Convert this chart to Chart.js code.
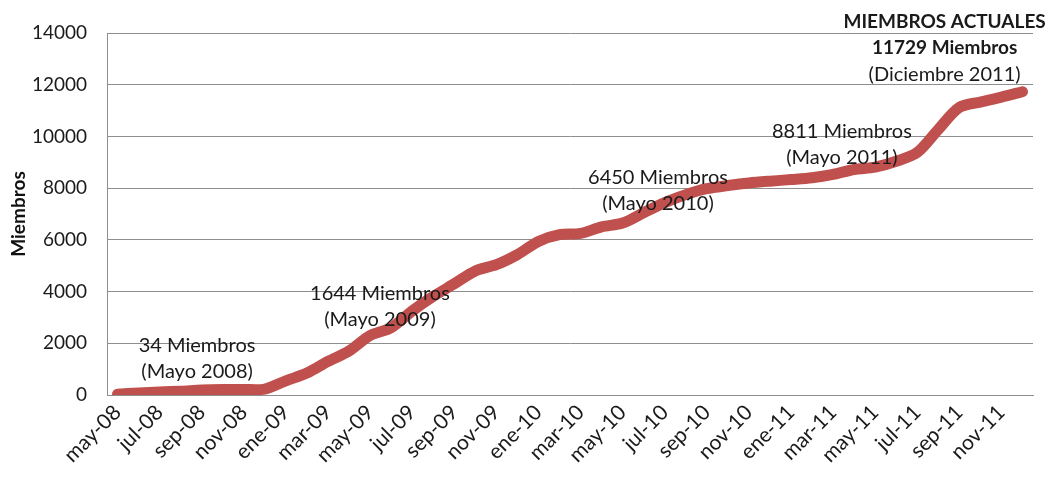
<!DOCTYPE html>
<html>
<head>
<meta charset="utf-8">
<script src="https://cdn.jsdelivr.net/npm/chart.js@4/dist/chart.umd.min.js"></script>
<style>
  html, body { margin: 0; padding: 0; background: #fff; }
  #wrap { width: 1046px; height: 478px; position: relative; }
</style>
</head>
<body>
<div id="wrap"><canvas id="c" width="1046" height="478"></canvas></div>
<script>
const months = ['may-08','jun-08','jul-08','ago-08','sep-08','oct-08','nov-08','dic-08',
  'ene-09','feb-09','mar-09','abr-09','may-09','jun-09','jul-09','ago-09','sep-09','oct-09','nov-09','dic-09',
  'ene-10','feb-10','mar-10','abr-10','may-10','jun-10','jul-10','ago-10','sep-10','oct-10','nov-10','dic-10',
  'ene-11','feb-11','mar-11','abr-11','may-11','jun-11','jul-11','ago-11','sep-11','oct-11','nov-11','dic-11'];
const miembros = [34,80,120,150,190,210,215,230,
  550,850,1300,1700,2300,2600,3250,3810,4300,4800,5040,5430,
  5940,6200,6250,6500,6650,7050,7440,7750,7980,8100,8200,8270,
  8330,8400,8530,8720,8811,9040,9380,10270,11120,11330,11520,11729];
const yTicks = [0,2000,4000,6000,8000,10000,12000,14000];
const annotationTexts = [
  ['34 Miembros','(Mayo 2008)'],
  ['1644 Miembros','(Mayo 2009)'],
  ['6450 Miembros','(Mayo 2010)'],
  ['8811 Miembros','(Mayo 2011)'],
  ['MIEMBROS ACTUALES','11729 Miembros','(Diciembre 2011)']
];

const FONT = 'Lato, "Liberation Sans", Arial, sans-serif';
// anchor (category index, value) and per-line bold flags
const annotationLayout = [
  {ix: 3.78, v: 1900, bold: [false,false]},
  {ix: 12.47, v: 3915, bold: [false,false]},
  {ix: 25.68, v: 8410, bold: [false,false]},
  {ix: 34.42, v: 10190, bold: [false,false]},
  {ix: 39.3, v: 14420, bold: [true,true,false]}
];

const annotPlugin = {
  id: 'annot',
  afterDatasetsDraw(chart) {
    const ctx = chart.ctx;
    const xs = chart.scales.x, ys = chart.scales.y;
    ctx.save();
    ctx.textAlign = 'center';
    ctx.textBaseline = 'middle';
    ctx.fillStyle = '#1a1a1a';
    annotationTexts.forEach((lines, k) => {
      const a = annotationLayout[k];
      const x = xs.getPixelForValue(a.ix);
      const y0 = ys.getPixelForValue(a.v);
      lines.forEach((t, j) => {
        ctx.font = (a.bold[j] ? 'bold 19px ' : '20px ') + FONT;
        ctx.fillText(t, x, y0 + j * 26);
      });
    });
    ctx.restore();
  }
};

new Chart(document.getElementById('c'), {
  type: 'line',
  data: {
    labels: months,
    datasets: [{
      data: miembros,
      borderColor: '#C0504D',
      borderWidth: 11,
      borderCapStyle: 'round',
      borderJoinStyle: 'round',
      pointRadius: 0,
      tension: 0.3,
      fill: false
    }]
  },
  options: {
    responsive: false,
    animation: false,
    devicePixelRatio: 1,
    layout: { padding: { top: 33, right: 13, left: 0, bottom: 0 } },
    plugins: { legend: { display: false }, tooltip: { enabled: false } },
    scales: {
      x: {
        type: 'category',
        offset: true,
        grid: { display: false, drawTicks: false },
        border: { display: true, color: '#8E8E8E', width: 1 },
        ticks: {
          autoSkip: false,
          maxRotation: 45,
          minRotation: 45,
          padding: 5,
          color: '#1a1a1a',
          font: { family: FONT, size: 21 },
          callback: function(val, idx) { return idx % 2 === 0 ? months[idx] : ''; }
        },
        afterFit(scale) { scale.height = 83; }
      },
      y: {
        min: 0,
        max: 14000,
        afterBuildTicks(scale) { scale.ticks = yTicks.map(v => ({ value: v })); },
        grid: { color: '#8E8E8E', lineWidth: 1, drawTicks: false },
        border: { display: true, color: '#8E8E8E', width: 1 },
        ticks: {
          padding: 20,
          color: '#1a1a1a',
          font: { family: FONT, size: 19 },
          callback: function(v) { return String(v); }
        },
        title: {
          display: true,
          text: 'Miembros',
          color: '#111',
          font: { family: FONT, size: 19, weight: 'bold' },
          padding: { top: 7, bottom: 0 }
        },
        afterFit(scale) { scale.width = 107; }
      }
    }
  },
  plugins: [annotPlugin]
});
</script>
</body>
</html>
